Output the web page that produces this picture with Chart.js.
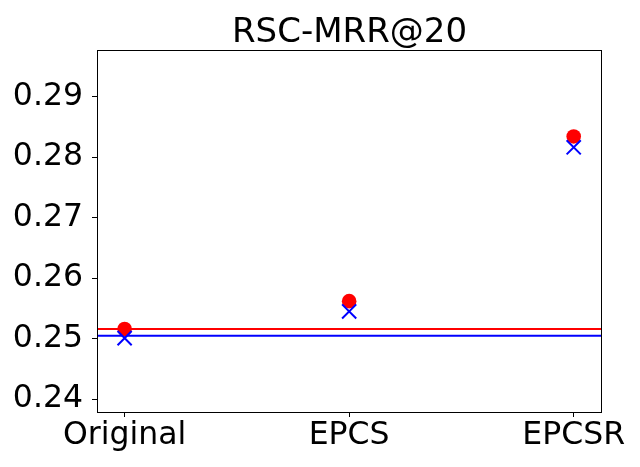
<!DOCTYPE html>
<html>
<head>
<meta charset="utf-8">
<script src="https://cdn.jsdelivr.net/npm/chart.js@4"></script>
<style>
  html, body { margin: 0; padding: 0; background: #fff; }
  canvas { display: block; }
</style>
</head>
<body>
<canvas id="graf" width="640" height="467"></canvas>
<script>
// data
const kategorie = ['Original', 'EPCS', 'EPCSR'];
const tecky = [0.2516, 0.2562, 0.2834];      // red circles
const krizky = [0.2501, 0.2545, 0.2816];     // blue crosses
const cervenaLinie = [0.2516];               // red horizontal line
const modraLinie = [0.2505];                 // blue horizontal line
const yTicky = [0.24, 0.25, 0.26, 0.27, 0.28, 0.29];
const nadpis = 'RSC-MRR@20';

const X_MIN = -0.123, X_MAX = 2.126;
const Y_MIN = 0.2379, Y_MAX = 0.29767;
const FONT = 'DejaVu Sans';

const body = arr => arr.map((v, i) => ({ x: i, y: v }));
const linie = v => [{ x: X_MIN, y: v }, { x: X_MAX, y: v }];

// ramecek a nadpis (jako v matplotlibu)
const ramecek = {
    id: 'ramecek',
    afterDraw(chart) {
        const { ctx, chartArea: a } = chart;
        ctx.save();
        ctx.strokeStyle = '#000';
        ctx.lineWidth = 1;
        ctx.strokeRect(Math.round(a.left) + 0.5, Math.round(a.top) + 0.5,
            Math.round(a.right - a.left) - 1, Math.round(a.bottom - a.top));
        ctx.fillStyle = '#000';
        ctx.font = '34px "' + FONT + '"';
        ctx.textAlign = 'center';
        ctx.textBaseline = 'alphabetic';
        ctx.fillText(nadpis, (a.left + a.right) / 2, 41.5);
        ctx.restore();
    }
};

new Chart(document.getElementById('graf'), {
    type: 'scatter',
    data: {
        datasets: [
            {
                data: linie(cervenaLinie[0]), type: 'line', showLine: true,
                borderColor: '#ff0000', borderWidth: 2, pointRadius: 0, order: 4
            },
            {
                data: linie(modraLinie[0]), type: 'line', showLine: true,
                borderColor: '#0000ff', borderWidth: 2, pointRadius: 0, order: 3
            },
            {
                data: body(tecky), pointStyle: 'circle', pointRadius: 7.3,
                backgroundColor: '#ff0000', borderColor: '#ff0000', borderWidth: 0, order: 2
            },
            {
                data: body(krizky), pointStyle: 'crossRot', pointRadius: 10,
                borderColor: '#0000ff', backgroundColor: '#0000ff', borderWidth: 2, order: 1
            }
        ]
    },
    options: {
        responsive: false,
        animation: false,
        layout: { padding: { top: 50, right: 38, left: 0, bottom: 0 } },
        plugins: { legend: { display: false }, tooltip: { enabled: false }, title: { display: false } },
        scales: {
            x: {
                type: 'linear', min: X_MIN, max: X_MAX,
                afterBuildTicks: s => { s.ticks = kategorie.map((_, i) => ({ value: i })); },
                afterFit: s => { s.height = 55; },
                border: { display: false },
                grid: { drawOnChartArea: false, drawTicks: true, tickLength: 5, tickColor: '#000', tickWidth: 1 },
                ticks: {
                    color: '#000', padding: 0, maxRotation: 0, autoSkip: false,
                    font: { family: FONT, size: 31.5 },
                    callback: v => kategorie[v]
                }
            },
            y: {
                min: Y_MIN, max: Y_MAX,
                afterBuildTicks: s => { s.ticks = yTicky.map(v => ({ value: v })); },
                afterFit: s => { s.width = 97; },
                border: { display: false },
                grid: { drawOnChartArea: false, drawTicks: true, tickLength: 5, tickColor: '#000', tickWidth: 1 },
                ticks: {
                    color: '#000', padding: 9,
                    font: { family: FONT, size: 31.5 },
                    callback: v => v.toFixed(2)
                }
            }
        }
    },
    plugins: [ramecek]
});
</script>
</body>
</html>
